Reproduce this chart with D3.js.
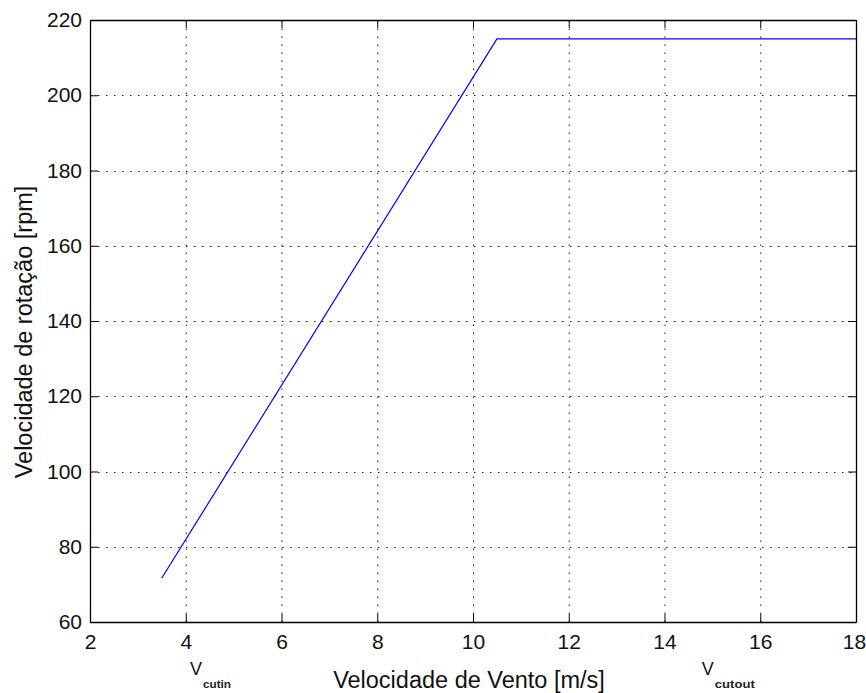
<!DOCTYPE html>
<html>
<head>
<meta charset="utf-8">
<script src="https://cdn.jsdelivr.net/npm/d3@7"></script>
<style>
  body { margin: 0; background: #fff; }
  svg { display: block; font-family: "Liberation Sans", Arial, Helvetica, sans-serif; }
</style>
</head>
<body>
<svg id="chart" width="866" height="693"></svg>
<script>
// wind speed [m/s] vs rotor speed [rpm]
const windSpeed = [3.5, 10.5, 18];
const rotorRpm = [71.7, 215, 215];
const xTicks = [2, 4, 6, 8, 10, 12, 14, 16, 18];
const yTicks = [60, 80, 100, 120, 140, 160, 180, 200, 220];
const markers = [
  { x: 4.09, base: "V", sub: "cutin", subW: 28 },
  { x: 14.78, base: "V", sub: "cutout", subW: 40 }
];

const W = 866, H = 693;
const m = { left: 90, right: 10, top: 20, bottom: 71 };

const svg = d3.select("#chart");
const x = d3.scaleLinear().domain([2, 18]).range([m.left, W - m.right]);
const y = d3.scaleLinear().domain([60, 220]).range([H - m.bottom, m.top]);

const pts = windSpeed.map((v, i) => [v, rotorRpm[i]]);

// --- grid (dotted)
const grid = svg.append("g").attr("stroke", "#222").attr("stroke-width", 1)
  .attr("stroke-dasharray", "1.5,6.5");
grid.selectAll("line.vx").data(xTicks.slice(1, -1)).join("line")
  .attr("x1", d => x(d) + 0.5).attr("x2", d => x(d) + 0.5)
  .attr("y1", y(60)).attr("y2", y(220));
grid.selectAll("line.hy").data(yTicks.slice(1, -1)).join("line")
  .attr("y1", d => Math.round(y(d)) + 0.5).attr("y2", d => Math.round(y(d)) + 0.5)
  .attr("x1", x(2)).attr("x2", x(18));

// --- data line
const line = d3.line().x(d => x(d[0])).y(d => y(d[1]));
svg.append("path").datum(pts)
  .attr("fill", "none").attr("stroke", "#0000ff").attr("stroke-width", 1.2)
  .attr("d", line);

// --- axes (MATLAB style: inward ticks on all sides)
const tk = 8;
const fs = "21px";
svg.append("g").attr("transform", `translate(0,${y(60)})`)
  .call(d3.axisBottom(x).tickValues(xTicks).tickSizeInner(-tk).tickSizeOuter(0).tickPadding(12))
  .call(g => g.selectAll("text").attr("font-size", fs).attr("fill", "#111").attr("font-family", null));
svg.append("g").attr("transform", `translate(0,${y(220)})`)
  .call(d3.axisTop(x).tickValues(xTicks).tickSizeInner(-tk).tickSizeOuter(0).tickFormat(""));
svg.append("g").attr("transform", `translate(${x(2)},0)`)
  .call(d3.axisLeft(y).tickValues(yTicks).tickSizeInner(-tk).tickSizeOuter(0).tickPadding(8))
  .call(g => g.selectAll("text").attr("font-size", fs).attr("fill", "#111").attr("font-family", null));
svg.append("g").attr("transform", `translate(${x(18)},0)`)
  .call(d3.axisRight(y).tickValues(yTicks).tickSizeInner(-tk).tickSizeOuter(0).tickFormat(""));
svg.selectAll(".domain").attr("stroke", "#000").attr("stroke-width", 1.3);
svg.selectAll(".tick line").attr("stroke", "#000");
// keep the last x label inside the frame
svg.selectAll(".tick text").filter(d => d === 18).attr("dx", -2);

// --- axis labels
svg.append("text")
  .attr("x", 469).attr("y", 688)
  .attr("text-anchor", "middle").attr("font-size", "23.5px").attr("fill", "#111")
  .text("Velocidade de Vento [m/s]");
svg.append("text")
  .attr("transform", `translate(32,332) rotate(-90)`)
  .attr("text-anchor", "middle").attr("font-size", "23.5px").attr("fill", "#111")
  .text("Velocidade de rotação [rpm]");

// --- cut-in / cut-out markers under the axis
const mk = svg.append("g").selectAll("g").data(markers).join("g");
mk.append("text")
  .attr("x", d => x(d.x)).attr("y", 675)
  .attr("font-size", "18px").attr("fill", "#111").text(d => d.base);
mk.append("text")
  .attr("x", d => x(d.x) + 13).attr("y", 688)
  .attr("font-size", "10.5px").attr("font-weight", "bold").attr("fill", "#222")
  .attr("textLength", d => d.subW).attr("lengthAdjust", "spacingAndGlyphs")
  .text(d => d.sub);
</script>
</body>
</html>
